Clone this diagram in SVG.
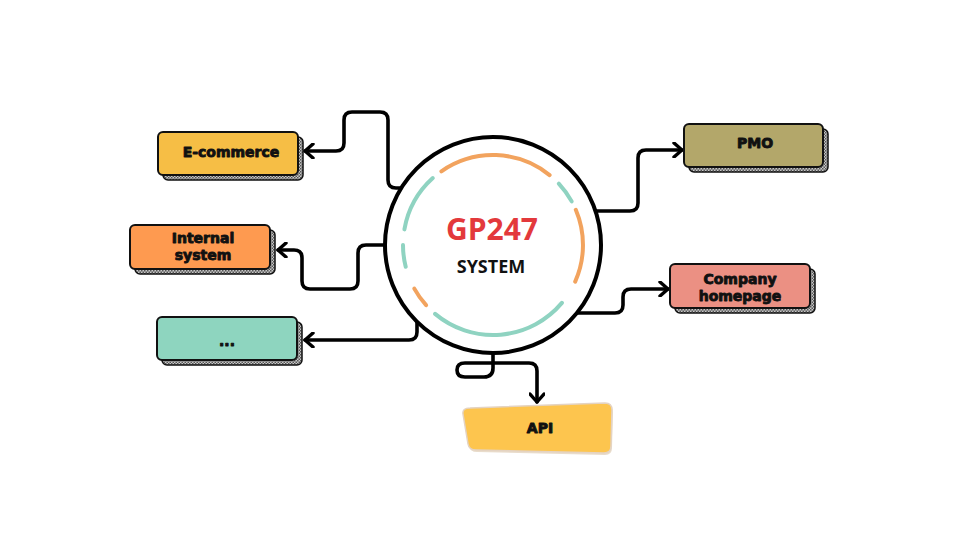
<svg xmlns="http://www.w3.org/2000/svg" width="960" height="540" viewBox="0 0 960 540">
<defs>
  <pattern id="dither" width="3" height="3" patternUnits="userSpaceOnUse">
    <rect width="3" height="3" fill="#c8c8c8"/>
    <rect x="0" y="0" width="1.5" height="1.5" fill="#555"/>
    <rect x="1.5" y="1.5" width="1.5" height="1.5" fill="#555"/>
  </pattern>
  <marker id="chev" viewBox="0 0 12 16" refX="10" refY="8" markerWidth="12" markerHeight="16" markerUnits="userSpaceOnUse" orient="auto">
    <polyline points="2,1 10,8 2,15" fill="none" stroke="#000" stroke-width="3.4" stroke-linecap="round" stroke-linejoin="round"/>
  </marker>
</defs>
<style>
  .shadow { fill: url(#dither); stroke: #111; stroke-width: 1.5; }
  .box { stroke: #111; stroke-width: 2; }
  .lbl { font-family: "DejaVu Sans", "Liberation Sans", sans-serif; font-weight: bold; font-size: 14px; fill: #111; text-anchor: middle; stroke: #111; stroke-width: 0.9; stroke-linejoin: round; }
  .conn { fill: none; stroke: #000; stroke-width: 3.6; stroke-linecap: round; stroke-linejoin: round; }
  .ring { fill: none; stroke-width: 4; stroke-linecap: round; }
  .teal { stroke: #8fd3c1; }
  .orng { stroke: #f2a35e; }
</style>
<rect width="960" height="540" fill="#ffffff"/>

<g id="connectors">
  <path class="conn" marker-end="url(#chev)" d="M401,188 H396 Q388,188 388,180 V120 Q388,112 380,112 H352 Q344,112 344,120 V143 Q344,151 336,151 H305"/>
  <path class="conn" marker-end="url(#chev)" d="M385,245 H366 Q358,245 358,253 V281 Q358,289 350,289 H310 Q302,289 302,281 V258 Q302,250 294,250 H278"/>
  <path class="conn" marker-end="url(#chev)" d="M417,321 V332 Q417,340 409,340 H305"/>
  <path class="conn" marker-end="url(#chev)" d="M596,211 H630 Q638,211 638,203 V158 Q638,150 646,150 H682"/>
  <path class="conn" marker-end="url(#chev)" d="M577,313 H615 Q623,313 623,305 V297 Q623,289 631,289 H668"/>
  <path class="conn" marker-end="url(#chev)" d="M493,353 V368 Q493,377 484,377 H465 Q457,377 457,370 Q457,363 465,363 H529 Q537,363 537,371 V402"/>
</g>

<g id="core">
  <circle cx="493" cy="245" r="108" fill="#ffffff" stroke="#000" stroke-width="4"/>
  <path class="ring orng" d="M441.4,171.3 A90,90 0 0 1 549.6,175.1"/>
  <path class="ring teal" d="M558.8,183.6 A90,90 0 0 1 571.7,201.4"/>
  <path class="ring orng" d="M575.8,209.8 A90,90 0 0 1 575.2,281.6"/>
  <path class="ring teal" d="M561.9,302.9 A90,90 0 0 1 435.1,313.9"/>
  <path class="ring orng" d="M426.1,305.2 A90,90 0 0 1 414.3,288.6"/>
  <path class="ring teal" d="M405.7,266.8 A90,90 0 0 1 403,245"/>
  <path class="ring teal" d="M404.4,229.4 A90,90 0 0 1 432.8,178.1"/>
  <text x="492" y="240" font-family="'Open Sans', 'Noto Sans', sans-serif" font-weight="bold" font-size="30" fill="#e3393c" text-anchor="middle">GP247</text>
  <text x="491" y="273" font-family="'Open Sans', 'Noto Sans', sans-serif" font-weight="bold" font-size="18" fill="#111" text-anchor="middle">SYSTEM</text>
</g>

<g id="ecommerce">
  <rect class="shadow" x="163" y="137" width="140" height="43" rx="5"/>
  <rect class="box" x="158" y="132" width="140" height="43" rx="5" fill="#f6be45"/>
  <text class="lbl" x="231" y="157">E-commerce</text>
</g>

<g id="internal">
  <rect class="shadow" x="135" y="230" width="140" height="44" rx="5"/>
  <rect class="box" x="130" y="225" width="140" height="44" rx="5" fill="#fe9a50"/>
  <text class="lbl" x="203" y="243">Internal</text>
  <text class="lbl" x="203" y="260">system</text>
</g>

<g id="more">
  <rect class="shadow" x="162" y="322" width="140" height="43" rx="5"/>
  <rect class="box" x="157" y="317" width="140" height="43" rx="5" fill="#8ed5bf"/>
  <text class="lbl" x="227" y="346">...</text>
</g>

<g id="pmo">
  <rect class="shadow" x="689" y="129" width="139" height="43" rx="5"/>
  <rect class="box" x="684" y="124" width="139" height="43" rx="5" fill="#b3a76a"/>
  <text class="lbl" x="755" y="148">PMO</text>
</g>

<g id="homepage">
  <rect class="shadow" x="675" y="269" width="140" height="44" rx="5"/>
  <rect class="box" x="670" y="264" width="140" height="44" rx="5" fill="#eb9083"/>
  <text class="lbl" x="740" y="284">Company</text>
  <text class="lbl" x="740" y="301">homepage</text>
</g>

<g id="api">
  <path d="M471,410 L606,405 Q613,405 613,412 L612,448 Q612,455 605,455 L477,452 Q470,452 469,446 L464,416 Q463,410 471,410 Z" fill="#e9dccb"/>
  <path d="M470,408 L605,403 Q612,403 612,410 L611,446 Q611,453 604,453 L476,450 Q469,450 468,444 L463,414 Q462,408 470,408 Z" fill="#fdc54e" stroke="#e4d3c2" stroke-width="1.5"/>
  <text class="lbl" x="540" y="433">API</text>
</g>
</svg>
